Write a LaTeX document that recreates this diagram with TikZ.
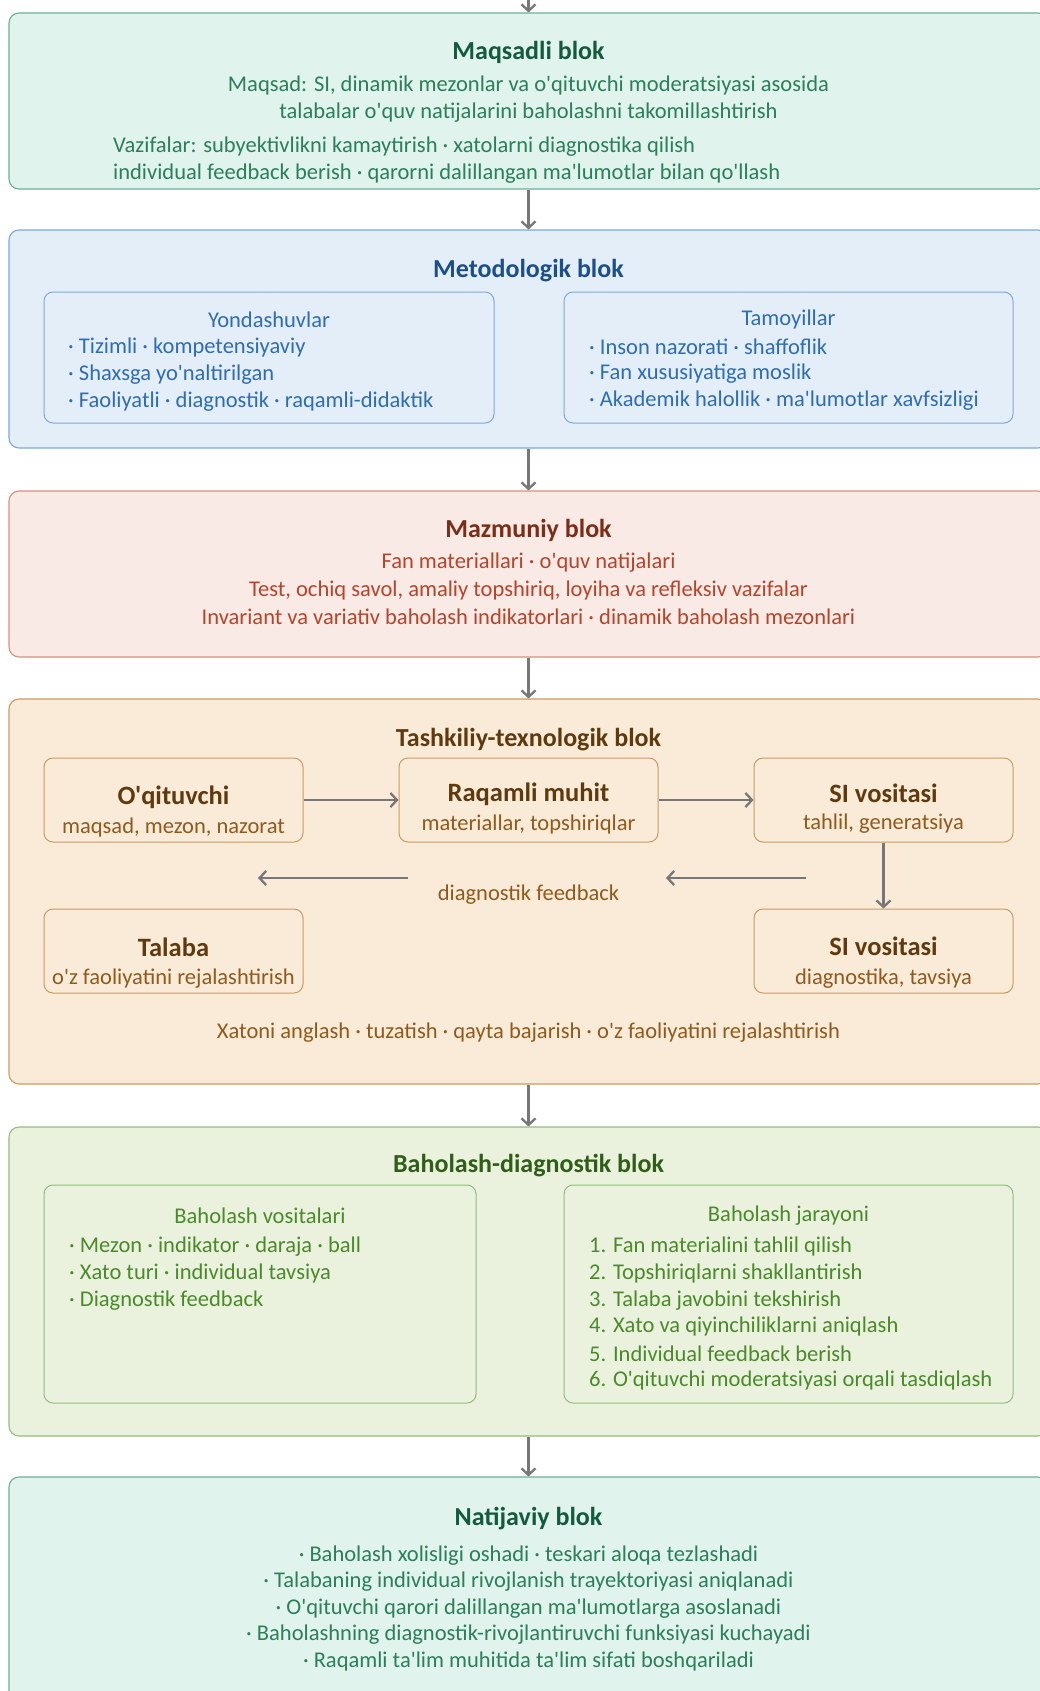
\documentclass[tikz,border=0pt]{standalone}
\usepackage{fontspec}
\setmainfont{Carlito}[Ligatures=TeXOff]
\usetikzlibrary{arrows.meta,positioning}

\definecolor{yalpiz}{HTML}{E0F3EC}
\definecolor{yalpizchiz}{HTML}{6DB096}
\definecolor{yalpizsar}{HTML}{145A3E}
\definecolor{yalpizmat}{HTML}{2B7F5B}
\definecolor{kok}{HTML}{E4EEF9}
\definecolor{kokchiz}{HTML}{7FA8D8}
\definecolor{koksar}{HTML}{1C4F8A}
\definecolor{kokmat}{HTML}{2E6DB4}
\definecolor{qizil}{HTML}{F9EAE5}
\definecolor{qizilchiz}{HTML}{D4917E}
\definecolor{qizilsar}{HTML}{7B2D17}
\definecolor{qizilmat}{HTML}{B5452A}
\definecolor{jigar}{HTML}{FAEBD8}
\definecolor{jigarchiz}{HTML}{C99A64}
\definecolor{jigarsar}{HTML}{5E3A0E}
\definecolor{jigarmat}{HTML}{8F5A1C}
\definecolor{yashil}{HTML}{EAF2DE}
\definecolor{yashilchiz}{HTML}{93BC7E}
\definecolor{yashilsar}{HTML}{2F5E18}
\definecolor{yashilmat}{HTML}{4A8A2A}
\definecolor{strelkarang}{HTML}{777777}

\begin{document}
\begin{tikzpicture}[x=1pt, y=-1pt,
    blok/.style={draw, rounded corners=10pt, line width=1.1pt, minimum width=1039pt, inner sep=0pt},
    ichki/.style={draw, rounded corners=9pt, line width=1pt, inner sep=0pt},
    sarlavha/.style={font=\fontsize{26}{30}\selectfont\bfseries, inner sep=0pt},
    matn/.style={font=\fontsize{22.5}{26}\selectfont, inner sep=0pt},
    ism/.style={font=\fontsize{26.5}{30}\selectfont\bfseries, inner sep=0pt},
    strelka/.style={draw=strelkarang, line width=2.3pt, -{Straight Barb[length=6.5pt,width=14pt]}}]
\clip (0,0) rectangle (1040,1691);
\fill[white] (0,0) rectangle (1040,1691);

% bloklar
\node (maqsad) [blok, draw=yalpizchiz, fill=yalpiz, minimum height=176pt] at (528.5,101) {};
\node (metod) [blok, draw=kokchiz, fill=kok, minimum height=218pt] at (528.5,339) {};
\node (mazmun) [blok, draw=qizilchiz, fill=qizil, minimum height=166pt] at (528.5,574) {};
\node (tashkil) [blok, draw=jigarchiz, fill=jigar, minimum height=385pt] at (528.5,891.5) {};
\node (baho) [blok, draw=yashilchiz, fill=yashil, minimum height=309pt] at (528.5,1281.5) {};
\node (natija) [blok, draw=yalpizchiz, fill=yalpiz, minimum height=243pt] at (528.5,1598.5) {};

% bloklar orasidagi strelkalar
\coordinate (yuqori) at (528.5,-20);
\draw[strelka] (yuqori) -- (maqsad.north);
\draw[strelka] (maqsad.south) -- (metod.north);
\draw[strelka] (metod.south) -- (mazmun.north);
\draw[strelka] (mazmun.south) -- (tashkil.north);
\draw[strelka] (tashkil.south) -- (baho.north);
\draw[strelka] (baho.south) -- (natija.north);

% Maqsadli blok
\node (maqsadsar) [sarlavha, text=yalpizsar] at (528.5,52.5) {Maqsadli blok};
\node (maqsad1) [matn, text=yalpizmat] at (528.5,86) {Maqsad: SI, dinamik mezonlar va o'qituvchi moderatsiyasi asosida};
\node (maqsad2) [matn, text=yalpizmat] at (528.5,113) {talabalar o'quv natijalarini baholashni takomillashtirish};
\node (vazifa1) [matn, text=yalpizmat, anchor=west] at (113,146.5) {Vazifalar: subyektivlikni kamaytirish · xatolarni diagnostika qilish};
\node (vazifa2) [matn, text=yalpizmat, anchor=west] at (113,173.5) {individual feedback berish · qarorni dalillangan ma'lumotlar bilan qo'llash};

% Metodologik blok
\node (metodsar) [sarlavha, text=koksar] at (528.5,271) {Metodologik blok};
\node (yondash) [ichki, draw=kokchiz, fill=kok, minimum width=450pt, minimum height=131pt] at (269,357.5) {};
\node (tamoyil) [ichki, draw=kokchiz, fill=kok, minimum width=449pt, minimum height=131pt] at (788.5,357.5) {};
\node (yondashsar) [matn, text=kokmat] at (269,320) {Yondashuvlar};
\node (tamoyilsar) [matn, text=kokmat] at (788.5,319) {Tamoyillar};
\foreach \t [count=\i] in {{· Tizimli · kompetensiyaviy},{· Shaxsga yo'naltirilgan},{· Faoliyatli · diagnostik · raqamli-didaktik}} {
    \pgfmathsetmacro{\yy}{347.5+27*(\i-1)}
    \node (yond\i) [matn, text=kokmat, anchor=west] at (68,\yy) {\t};
}
\foreach \t [count=\i] in {{· Inson nazorati · shaffoflik},{· Fan xususiyatiga moslik},{· Akademik halollik · ma'lumotlar xavfsizligi}} {
    \pgfmathsetmacro{\yy}{346.5+27*(\i-1)}
    \node (tam\i) [matn, text=kokmat, anchor=west] at (589,\yy) {\t};
}

% Mazmuniy blok
\node (mazmunsar) [sarlavha, text=qizilsar] at (528.5,530) {Mazmuniy blok};
\node (mazmun1) [matn, text=qizilmat] at (528.5,563) {Fan materiallari · o'quv natijalari};
\node (mazmun2) [matn, text=qizilmat] at (528.5,590) {Test, ochiq savol, amaliy topshiriq, loyiha va refleksiv vazifalar};
\node (mazmun3) [matn, text=qizilmat] at (528.5,617) {Invariant va variativ baholash indikatorlari · dinamik baholash mezonlari};

% Tashkiliy-texnologik blok
\node (tashkilsar) [sarlavha, text=jigarsar] at (528.5,740) {Tashkiliy-texnologik blok};
\node (oqit) [ichki, draw=jigarchiz, fill=jigar, minimum width=259pt, minimum height=84pt] at (173.5,800) {};
\node (raqam) [ichki, draw=jigarchiz, fill=jigar, minimum width=259pt, minimum height=84pt] at (528.5,800) {};
\node (si1) [ichki, draw=jigarchiz, fill=jigar, minimum width=259pt, minimum height=84pt] at (883.5,800) {};
\node (talaba) [ichki, draw=jigarchiz, fill=jigar, minimum width=259pt, minimum height=84pt] at (173.5,951) {};
\node (si2) [ichki, draw=jigarchiz, fill=jigar, minimum width=259pt, minimum height=84pt] at (883.5,951) {};
\node (oqitism) [ism, text=jigarsar] at (173.5,797) {O'qituvchi};
\node (oqitmat) [matn, text=jigarmat] at (173.5,827) {maqsad, mezon, nazorat};
\node (raqamism) [ism, text=jigarsar] at (528.5,794) {Raqamli muhit};
\node (raqammat) [matn, text=jigarmat] at (528.5,824) {materiallar, topshiriqlar};
\node (si1ism) [ism, text=jigarsar] at (883.5,793) {SI vositasi};
\node (si1mat) [matn, text=jigarmat] at (883.5,824) {tahlil, generatsiya};
\node (talabaism) [ism, text=jigarsar] at (173.5,947) {Talaba};
\node (talabamat) [matn, text=jigarmat] at (173.5,979) {o'z faoliyatini rejalashtirish};
\node (si2ism) [ism, text=jigarsar] at (883.5,946.5) {SI vositasi};
\node (si2mat) [matn, text=jigarmat] at (883.5,979) {diagnostika, tavsiya};
\draw[strelka] (oqit.east) -- (raqam.west);
\draw[strelka] (raqam.east) -- (si1.west);
\draw[strelka] (si1.south) -- (si2.north);
\coordinate (fb1bosh) at (408,878);
\coordinate (fb1oxir) at (258,878);
\coordinate (fb2bosh) at (806,878);
\coordinate (fb2oxir) at (666,878);
\draw[strelka] (fb1bosh) -- (fb1oxir);
\draw[strelka] (fb2bosh) -- (fb2oxir);
\node (feedback) [matn, text=jigarmat] at (528.5,895) {diagnostik feedback};
\node (tashkilpast) [matn, text=jigarmat] at (528.5,1032.5) {Xatoni anglash · tuzatish · qayta bajarish · o'z faoliyatini rejalashtirish};

% Baholash-diagnostik blok
\node (bahosar) [sarlavha, text=yashilsar] at (528.5,1166) {Baholash-diagnostik blok};
\node (vosita) [ichki, draw=yashilchiz, fill=yashil, minimum width=432pt, minimum height=218pt] at (260,1294) {};
\node (jarayon) [ichki, draw=yashilchiz, fill=yashil, minimum width=449pt, minimum height=218pt] at (788.5,1294) {};
\node (vositasar) [matn, text=yashilmat] at (260,1216) {Baholash vositalari};
\node (jarayonsar) [matn, text=yashilmat] at (788.5,1216) {Baholash jarayoni};
\foreach \t [count=\i] in {{· Mezon · indikator · daraja · ball},{· Xato turi · individual tavsiya},{· Diagnostik feedback}} {
    \pgfmathsetmacro{\yy}{1246.5+27*(\i-1)}
    \node (vos\i) [matn, text=yashilmat, anchor=west] at (69,\yy) {\t};
}
\foreach \t [count=\i] in {{Fan materialini tahlil qilish},{Topshiriqlarni shakllantirish},{Talaba javobini tekshirish},{Xato va qiyinchiliklarni aniqlash},{Individual feedback berish},{O'qituvchi moderatsiyasi orqali tasdiqlash}} {
    \pgfmathsetmacro{\yy}{1246.5+26.8*(\i-1)}
    \node (jar\i) [matn, text=yashilmat, anchor=west] at (589,\yy) {\i. \t};
}

% Natijaviy blok
\node (natijasar) [sarlavha, text=yalpizsar] at (528.5,1519) {Natijaviy blok};
\foreach \t [count=\i] in {{· Baholash xolisligi oshadi · teskari aloqa tezlashadi},{· Talabaning individual rivojlanish trayektoriyasi aniqlanadi},{· O'qituvchi qarori dalillangan ma'lumotlarga asoslanadi},{· Baholashning diagnostik-rivojlantiruvchi funksiyasi kuchayadi},{· Raqamli ta'lim muhitida ta'lim sifati boshqariladi}} {
    \pgfmathsetmacro{\yy}{1555.5+26.5*(\i-1)}
    \node (nat\i) [matn, text=yalpizmat] at (528.5,\yy) {\t};
}
\end{tikzpicture}
\end{document}
